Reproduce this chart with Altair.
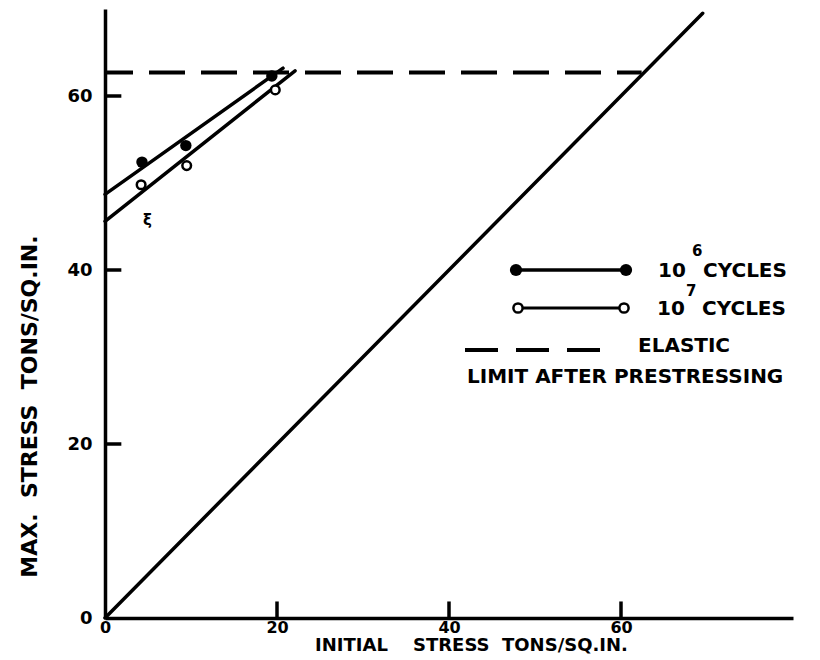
import altair as alt
import pandas as pd

# ---- data ----
x_ticks = [0, 20, 40, 60]
y_ticks = [0, 20, 40, 60]
tick_marks = [20.0, 40.0, 60.0]

cyc6_x = [4.3, 9.4, 19.4]
cyc6_y = [52.4, 54.3, 62.3]
cyc7_x = [4.2, 9.5, 19.8]
cyc7_y = [49.8, 52.0, 60.7]

fit6_x = [0, 20.7]
fit6_y = [48.7, 63.2]
fit7_x = [0, 22.1]
fit7_y = [45.6, 62.9]

diag_x = [0, 69.5]
diag_y = [0, 69.5]

elastic_x = [0, 62.4]
elastic_y = [62.7, 62.7]

# ---- layout ----
W, H = 688, 609
FONT = "DejaVu Sans"
NB = "\u00a0"
xs = alt.Scale(domain=[0, 80], nice=False, zero=False)
ys = alt.Scale(domain=[0, 70], nice=False, zero=False)

x_axis = alt.Axis(
    values=x_ticks, title=f"INITIAL{NB*4}STRESS{NB*2}TONS/SQ.IN.", grid=False,
    ticks=False, tickSize=0, domainWidth=3.5, domainColor="black",
    labelFont=FONT, labelFontSize=16, labelFontWeight="bold", labelColor="black",
    labelPadding=1, labelFlush=False, labelOverlap=False,
    titleFont=FONT, titleFontSize=18, titleFontWeight="bold", titleColor="black",
    titleX=366, titleY=32, titleAlign="center", titleBaseline="alphabetic",
)
y_axis = alt.Axis(
    values=y_ticks, title=f"MAX.{NB*2}STRESS{NB*2}TONS/SQ.IN.", grid=False,
    ticks=False, tickSize=0, domainWidth=3.5, domainColor="black",
    labelFont=FONT, labelFontSize=18, labelFontWeight="bold", labelColor="black",
    labelPadding=13, labelFlush=False, labelOverlap=False,
    titleFont=FONT, titleFontSize=22, titleFontWeight="bold", titleColor="black",
    titleX=-76, titleY=397, titleAngle=270, titleAlign="center", titleBaseline="middle",
)


def X():
    return alt.X("x:Q", scale=xs, axis=x_axis)


def Y():
    return alt.Y("y:Q", scale=ys, axis=y_axis)


def line_layer(xv, yv, **kw):
    df = pd.DataFrame({"x": [float(v) for v in xv], "y": [float(v) for v in yv]})
    return alt.Chart(df).mark_line(color="black", **kw).encode(x=X(), y=Y())


diag = line_layer(diag_x, diag_y, strokeWidth=3.5, strokeCap="round")
fit6 = line_layer(fit6_x, fit6_y, strokeWidth=3.5, strokeCap="round")
fit7 = line_layer(fit7_x, fit7_y, strokeWidth=3.5, strokeCap="round")
elastic = line_layer(elastic_x, elastic_y, strokeWidth=4, strokeDash=[36, 16], strokeDashOffset=8)

# inward tick marks: one short segment per tick value, drawn like the other lines
TL = 1.9  # tick length, in axis units
tick_layers = []
for t in tick_marks:
    tick_layers.append(line_layer([t, t], [0, TL], strokeWidth=3.5))
    tick_layers.append(line_layer([0, TL], [t, t], strokeWidth=3.5))

pts6 = alt.Chart(pd.DataFrame({"x": cyc6_x, "y": cyc6_y})).mark_point(
    shape="circle", filled=True, color="black", size=130, opacity=1
).encode(x=X(), y=Y())
pts7 = alt.Chart(pd.DataFrame({"x": cyc7_x, "y": cyc7_y})).mark_point(
    shape="circle", fill="white", stroke="black", strokeWidth=2.5, size=75, opacity=1, fillOpacity=1
).encode(x=X(), y=Y())

# ---- hand-drawn legend ----
one = pd.DataFrame({"a": [0]})


def hrule(x1, x2, y, **kw):
    return alt.Chart(one).mark_rule(color="black", **kw).encode(
        x=alt.value(x1), x2=alt.value(x2), y=alt.value(y)
    )


def dot(x, y, filled):
    if filled:
        m = alt.Chart(one).mark_point(shape="circle", filled=True, color="black", size=150, opacity=1)
    else:
        m = alt.Chart(one).mark_point(shape="circle", fill="white", stroke="black",
                                      strokeWidth=2.5, size=85, opacity=1, fillOpacity=1)
    return m.encode(x=alt.value(x), y=alt.value(y))


def label(txt, x, y, size=20):
    return alt.Chart(one).mark_text(
        text=txt, align="left", baseline="middle", font=FONT, fontSize=size,
        fontWeight="bold", color="black"
    ).encode(x=alt.value(x), y=alt.value(y))


legend = [
    hrule(411, 521, 261, strokeWidth=3.5),
    dot(411, 261, True), dot(521, 261, True),
    hrule(413, 519, 299, strokeWidth=3),
    dot(413, 299, False), dot(519, 299, False),
    hrule(360, 495, 341, strokeWidth=4, strokeDash=[33, 18]),
    label("10", 553, 262), label("6", 587, 242, 15), label("CYCLES", 598, 262),
    label("10", 552, 300), label("7", 581, 282, 15), label("CYCLES", 597, 300),
    label("ELASTIC", 533, 337),
    label("LIMIT AFTER PRESTRESSING", 362, 368),
    label("ξ", 38, 211, 15),
]

chart = alt.layer(
    diag, fit6, fit7, elastic, *tick_layers, pts6, pts7, *legend
).properties(
    width=W, height=H,
    autosize=alt.AutoSizeParams(type="none"),
    padding={"left": 97, "top": 1, "right": 12, "bottom": 36},
    background="white",
).configure_view(stroke=None)

chart.save("out.html", embed_options={"renderer": "svg", "actions": False})
